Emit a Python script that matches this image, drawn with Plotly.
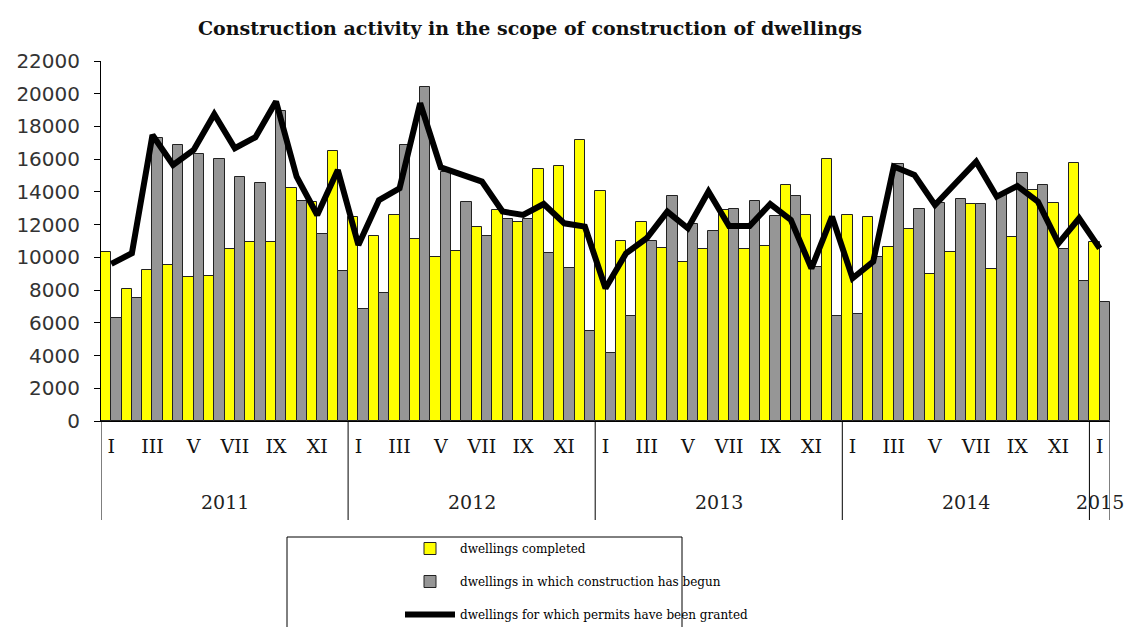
import plotly.graph_objects as go

years = ["2011", "2012", "2013", "2014", "2015"]
months_per_year = [12, 12, 12, 12, 1]
roman = ["I", "II", "III", "IV", "V", "VI", "VII", "VIII", "IX", "X", "XI", "XII"]

completed = [10300, 8070, 9250, 9520, 8780, 8860, 10510, 10920, 10920, 14220, 13410, 16500,
             12490, 11310, 12590, 11100, 10040, 10410, 11880, 12900, 12140, 15400, 15590, 17180,
             14060, 11000, 12180, 10600, 9740, 10510, 12900, 10510, 10720, 14430, 12590, 16010,
             12590, 12490, 10620, 11720, 8970, 10350, 13240, 9270, 11270, 14120, 13340, 15790,
             10960]
begun = [6310, 7500, 17280, 16870, 16300, 16010, 14910, 14530, 18950, 13450, 11430, 9170,
         6830, 7800, 16870, 20400, 15240, 13370, 11310, 12350, 12350, 10250, 9330, 5520,
         4180, 6420, 11000, 13750, 12040, 11610, 12940, 13450, 12550, 13750, 9430, 6420,
         6540, 10040, 15690, 12960, 13300, 13550, 13240, 13900, 15140, 14430, 10490, 8580,
         7290]
permits = [9600, 10250, 17480, 15650, 16560, 18750, 16670, 17340, 19520, 14930, 12590, 15340,
           10760, 13500, 14220, 19420, 15500, 15100, 14630, 12800, 12590, 13260, 12080, 11880,
           8110, 10250, 11170, 12800, 11780, 14020, 11920, 11920, 13260, 12290, 9330, 12490,
           8720, 9740, 15550, 15040, 13200, 14530, 15850, 13710, 14360, 13400, 10860, 12390,
           10550]

n = len(completed)
xs = list(range(n))
month_labels = []
for y, m in zip(years, months_per_year):
    month_labels += roman[:m]
tickvals = [i for i in xs if i % 2 == 0]
ticktext = [month_labels[i] for i in tickvals]

serif = "DejaVu Serif, serif"

fig = go.Figure()
fig.add_trace(go.Bar(x=xs, y=completed, name="dwellings completed",
                     marker=dict(color="#FFFF00", line=dict(color="#222222", width=1)),
                     legendgroup="a"))
fig.add_trace(go.Bar(x=xs, y=begun, name="dwellings in which construction has begun",
                     marker=dict(color="#969696", line=dict(color="#222222", width=1)),
                     legendgroup="b"))
fig.add_trace(go.Scatter(x=xs, y=permits, mode="lines",
                         name="dwellings for which permits have been granted",
                         line=dict(color="black", width=6), legendgroup="c"))

shapes = []
annotations = []
start = 0
bounds = [-0.5]
for y, m in zip(years, months_per_year):
    end = start + m
    bounds.append(end - 0.5)
    annotations.append(dict(x=(start + end - 1) / 2, y=-0.225, xref="x", yref="paper",
                            text=y, showarrow=False, yanchor="middle",
                            font=dict(family=serif, size=19, color="#222")))
    start = end
for b in bounds:
    shapes.append(dict(type="line", xref="x", yref="paper", x0=b, x1=b, y0=0, y1=-0.275,
                       line=dict(color="black", width=1)))
shapes.append(dict(type="rect", xref="paper", yref="paper",
                   x0=(287 - 101) / 1009, x1=(682 - 101) / 1009,
                   y0=-0.62, y1=(421 - 537) / 360,
                   line=dict(color="black", width=1), fillcolor="rgba(0,0,0,0)"))

fig.update_layout(
    width=1131, height=627,
    margin=dict(l=101, r=21, t=61, b=206, autoexpand=False),
    paper_bgcolor="white", plot_bgcolor="white",
    barmode="group", bargap=0, bargroupgap=0,
    title=dict(text="<b>Construction activity in the scope of construction of dwellings</b>",
               x=530 / 1131, xanchor="center", y=1 - 28 / 627, yanchor="middle",
               font=dict(family=serif, size=19, color="#111")),
    xaxis=dict(range=[-0.5, n - 0.5], tickmode="array", tickvals=tickvals, ticktext=ticktext,
               ticks="", showline=True, linecolor="black", linewidth=1, showgrid=False,
               zeroline=False, tickfont=dict(family=serif, size=19, color="#111"),
               ticklabelstandoff=8),
    yaxis=dict(range=[0, 22000], dtick=2000, ticks="outside", ticklen=6, tickcolor="black",
               tickformat="d",
               showline=True, linecolor="black", linewidth=1, showgrid=False, zeroline=False,
               tickfont=dict(family="DejaVu Sans, sans-serif", size=20, color="#333"),
               ticklabelstandoff=10),
    legend=dict(x=(400 - 101) / 1009, y=(421 - 534) / 360, xanchor="left", yanchor="top",
                orientation="v", traceorder="grouped", tracegroupgap=14,
                font=dict(family=serif, size=12, color="black"),
                bgcolor="rgba(0,0,0,0)", itemwidth=50),
    shapes=shapes, annotations=annotations,
    showlegend=True,
)

fig.write_html("out.html", config={"displayModeBar": False},
               post_script="document.body.style.margin='0';")
